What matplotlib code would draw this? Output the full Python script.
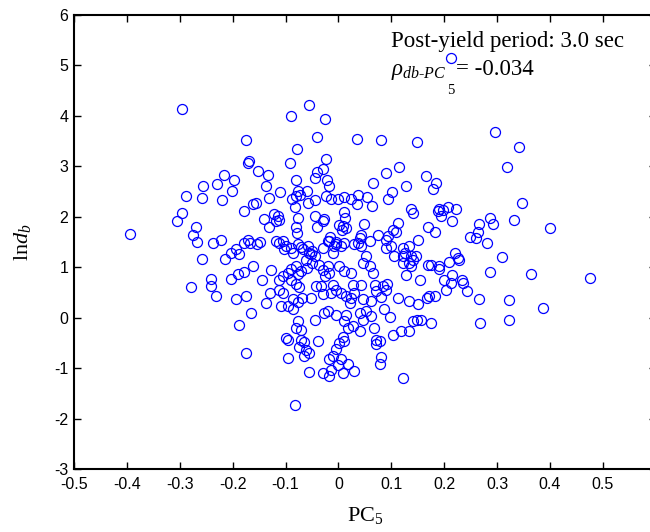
import matplotlib
matplotlib.use("Agg")
import matplotlib.pyplot as plt
import numpy as np

# Data (PC5 vs ln d_b)
pc5 = [
    -0.296, -0.395, -0.217, -0.198, -0.229, -0.256, -0.201, -0.288, -0.258, -0.220,
    -0.296, -0.306, -0.270, -0.274, -0.268, -0.238, -0.222, -0.258, -0.215, -0.203,
    -0.278, -0.240, -0.240, -0.232, -0.204, -0.193, -0.188, -0.189,
    -0.056, -0.089, -0.025, -0.175, -0.040, 0.036, 0.081, 0.148, -0.078, -0.169,
    -0.170, -0.091, -0.023, -0.152, -0.133, -0.040, -0.044, -0.029, -0.022, -0.018,
    -0.081, -0.137, 0.066, 0.115, 0.090, 0.128, 0.166, 0.102, 0.093, -0.110,
    -0.132, -0.077, -0.080, -0.072, -0.060, -0.087, -0.083, -0.057, -0.045, -0.023,
    -0.014, -0.001, 0.011, 0.024, 0.037, 0.054, 0.064, 0.036, -0.178, -0.161,
    -0.156, -0.141, -0.121, -0.115, -0.118, -0.112, -0.132, -0.076, -0.081, -0.078,
    -0.044, -0.040, -0.030, -0.027, 0.011, 0.013, 0.002, 0.008, 0.006, 0.015,
    -0.015, -0.017, -0.004, -0.008, 0.049, 0.042, 0.040, 0.059, 0.074, 0.090,
    0.093, 0.104, 0.109, 0.112, 0.138, 0.141, 0.150, 0.170, 0.134, 0.122,
    0.138, 0.141, 0.134, 0.100, 0.169, -0.194, -0.188, -0.178, -0.170, -0.168,
    -0.153, -0.148,
    -0.118, -0.113, -0.105, -0.099, -0.102, -0.090, -0.086, -0.077, -0.071, -0.066,
    -0.058, -0.055, -0.049, -0.045, -0.052, -0.061, -0.030, -0.020, -0.004, -0.011,
    0.005, 0.011, 0.030, 0.037, 0.043, 0.052, 0.090, 0.106, 0.122, 0.125, 0.147,
    -0.178, -0.161, -0.145, -0.128, -0.136, -0.129, -0.109, -0.112, -0.105, -0.096,
    -0.112, -0.105, -0.090, -0.080, -0.077, -0.090, -0.080, -0.074, -0.086, -0.077,
    -0.068, -0.052, -0.096, -0.086, -0.077, -0.080, -0.071, -0.071, -0.065, -0.074,
    -0.061, -0.065, -0.055, -0.099, -0.096, -0.096, -0.055, -0.082, -0.039, -0.045,
    -0.042, -0.033, -0.030, -0.049, -0.036, -0.030, -0.020, -0.017, -0.026, -0.011,
    -0.004, -0.014, 0.005, 0.015, 0.024, 0.021, -0.020, -0.027, -0.004, 0.015,
    0.011, 0.018, 0.027, 0.040, 0.046, 0.040, 0.052, 0.062, 0.068, 0.071,
    0.079, 0.071, 0.008, 0.011, 0.002, -0.004, -0.011, -0.017, -0.014, -0.001,
    0.005, 0.008, 0.018, 0.030, -0.030, 0.081, 0.079, 0.103, 0.119, 0.133,
    0.141, 0.148, 0.157, 0.112, 0.133, 0.150, 0.155, 0.171, 0.122, 0.059,
    0.066, 0.070, 0.085, 0.092, 0.071, 0.081, 0.090, 0.097, 0.087, 0.046,
    0.062, 0.030, 0.027, 0.043, 0.024, 0.011, 0.002, 0.046, 0.128, 0.138,
    0.122, -0.060, -0.071, -0.017, -0.174, -0.165, -0.174,
    0.297, 0.342, 0.319, 0.184, 0.179, 0.347, 0.191, 0.188, 0.197, 0.207,
    0.223, 0.194, 0.215, 0.286, 0.293, 0.266, 0.264, 0.261, 0.248, 0.281,
    0.332, 0.401, 0.182, 0.220, 0.226, 0.228, 0.210, 0.175, 0.191, 0.309,
    0.190, 0.286, 0.365, 0.475, 0.199, 0.215, 0.212, 0.234, 0.235, 0.204,
    0.243, 0.167, 0.182, 0.265, 0.322, 0.386, 0.175, 0.268, 0.322, 0.212,
]
ln_db = [
    4.13, 1.66, 2.82, 2.73, 2.65, 2.60, 2.50, 2.41, 2.36, 2.32,
    2.07, 1.91, 1.79, 1.63, 1.50, 1.48, 1.54, 1.17, 1.16, 1.28,
    0.60, 0.77, 0.62, 0.42, 0.77, 0.37, -0.15, 0.86,
    4.21, 3.99, 3.94, 3.51, 3.57, 3.54, 3.51, 3.47, 3.33, 3.10,
    3.06, 3.07, 3.14, 2.91, 2.82, 2.88, 2.77, 2.95, 2.73, 2.61,
    2.72, 2.60, 2.66, 2.98, 2.87, 2.60, 2.80, 2.48, 2.34, 2.48,
    2.37, 2.50, 2.40, 2.43, 2.50, 2.34, 2.19, 2.27, 2.32, 2.40,
    2.34, 2.34, 2.39, 2.34, 2.43, 2.39, 2.21, 2.24, 2.12, 2.24,
    2.27, 1.95, 2.05, 2.01, 1.91, 1.93, 1.79, 1.97, 1.79, 1.68,
    2.01, 1.80, 1.91, 1.95, 2.09, 1.97, 1.84, 1.81, 1.74, 1.78,
    1.59, 1.51, 1.49, 1.41, 1.86, 1.64, 1.58, 1.51, 1.64, 1.54,
    1.61, 1.74, 1.69, 1.88, 2.15, 2.07, 1.54, 1.80, 1.41, 1.38,
    1.21, 1.15, 1.08, 1.41, 1.05, 1.35, 1.25, 1.48, 1.54, 1.47,
    1.45, 1.49,
    1.51, 1.47, 1.51, 1.41, 1.35, 1.38, 1.28, 1.45, 1.40, 1.35,
    1.41, 1.28, 1.31, 1.21, 1.25, 1.15, 1.38, 1.51, 1.45, 1.28,
    1.41, 1.48, 1.45, 1.48, 1.41, 1.21, 1.38, 1.21, 1.21, 1.28, 1.21,
    0.90, 1.03, 0.74, 0.95, 0.28, 0.49, 0.22, 0.75, 0.83, 0.88,
    0.55, 0.49, 0.96, 1.02, 0.87, 0.74, 0.67, 0.61, 0.36, 0.30,
    0.39, 0.39, 0.22, 0.17, -0.07, -0.20, -0.24, -0.44, -0.49, -0.58,
    -0.65, -0.77, -0.71, -0.40, -0.44, -0.80, -1.08, -1.74, -0.47, -0.04,
    0.62, 0.62, 0.46, 1.08, 1.05, 0.95, 1.02, 0.88, 0.82, 0.65,
    0.55, 0.49, 0.49, 0.42, 0.39, 0.29, 0.13, 0.09, 0.06, 0.06,
    -0.07, -0.20, -0.16, -0.27, -0.04, 0.09, 0.13, 0.03, -0.20, -0.44,
    -0.47, -0.53, -0.38, -0.47, -0.51, -0.62, -0.77, -0.83, -1.03, -0.93,
    -0.83, -1.10, -0.91, -1.05, -1.10, -0.78, -0.91, -0.34, -0.27, -0.27,
    -0.06, -0.04, -0.04, 0.39, 0.32, 0.27, 0.74, 0.42, -1.19, 1.02,
    0.88, 0.65, 0.62, 0.67, 0.52, 0.41, 0.54, 0.01, 0.16, 0.36,
    0.32, 0.49, 0.65, 0.65, 0.88, 0.92, 1.03, 1.08, 0.85, 1.02,
    1.08, 0.98, 0.92, -1.15, -0.70, 0.09, 0.42,
    3.68, 3.38, 2.98, 2.66, 2.55, 2.26, 2.15, 2.11, 2.13, 2.19,
    2.15, 2.01, 1.91, 1.97, 1.85, 1.86, 1.70, 1.58, 1.60, 1.47,
    1.94, 1.78, 1.70, 1.27, 1.18, 1.15, 1.10, 1.05, 1.02, 1.19,
    0.97, 0.90, 0.87, 0.79, 0.75, 0.85, 0.69, 0.74, 0.69, 0.54,
    0.52, 0.39, 0.42, 0.37, 0.34, 0.18, -0.11, -0.11, -0.04, 5.15,
]

x_ticks = [-0.5, -0.4, -0.3, -0.2, -0.1, 0, 0.1, 0.2, 0.3, 0.4, 0.5]
x_ticklabels = ["-0.5", "-0.4", "-0.3", "-0.2", "-0.1", "0", "0.1", "0.2", "0.3", "0.4", "0.5"]
y_ticks = [-3, -2, -1, 0, 1, 2, 3, 4, 5, 6]
y_ticklabels = ["-3", "-2", "-1", "0", "1", "2", "3", "4", "5", "6"]

plt.rcParams['mathtext.fontset'] = 'custom'
plt.rcParams['mathtext.rm'] = 'Liberation Serif'
plt.rcParams['mathtext.it'] = 'Liberation Serif:italic'
plt.rcParams['mathtext.bf'] = 'Liberation Serif:bold'

fig = plt.figure(figsize=(6.5, 5.32), dpi=100)
ax = fig.add_axes([0.1138, 0.1184, 0.895, 0.854])

ax.plot(pc5, ln_db, linestyle='none', marker='o', markersize=7.2,
        markerfacecolor='none', markeredgecolor=(0, 0, 1), markeredgewidth=0.9)

ax.set_xlim(-0.5, 0.6)
ax.set_ylim(-3, 6)
ax.set_xticks(x_ticks)
ax.set_xticklabels(x_ticklabels, fontfamily='Liberation Sans', fontsize=11.5)
ax.set_yticks(y_ticks)
ax.set_yticklabels(y_ticklabels, fontfamily='Liberation Sans', fontsize=11.5)
ax.tick_params(axis='x', pad=6)
ax.tick_params(axis='y', pad=4)
ax.tick_params(direction='in', length=5, width=1, top=True, right=True)
for s in ax.spines.values():
    s.set_linewidth(1.5)

ax.set_xlabel(r'PC$_5$', fontfamily='Liberation Serif', fontsize=16, labelpad=9)
ax.set_ylabel(r'ln$d_b$', fontfamily='Liberation Serif', fontsize=16, labelpad=15)

ax.text(0.100, 5.35, 'Post-yield period: 3.0 sec', fontfamily='Liberation Serif',
        fontsize=16.5, va='baseline', ha='left')
ax.text(0.100, 4.81, r'$\rho_{db\text{-}PC}$', fontfamily='Liberation Serif',
        fontsize=16.5, va='baseline', ha='left')
ax.text(0.206, 4.43, '5', fontfamily='Liberation Serif',
        fontsize=10.5, va='baseline', ha='left')
ax.text(0.223, 4.81, '= -0.034', fontfamily='Liberation Serif',
        fontsize=16.5, va='baseline', ha='left')

fig.savefig('out.png', dpi=100)
